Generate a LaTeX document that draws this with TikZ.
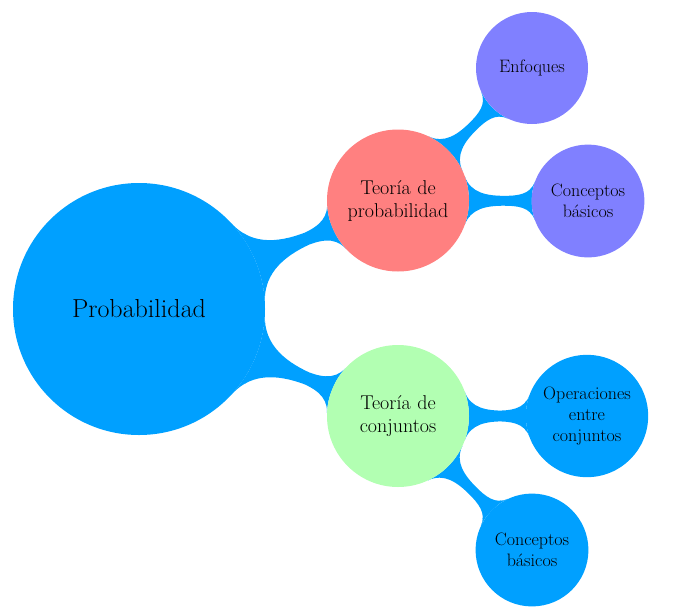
\documentclass[tikz,border=0pt]{standalone}
\usetikzlibrary{mindmap,backgrounds}
\definecolor{cmain}{RGB}{0,160,255}
\colorlet{cprob}{red!50}
\colorlet{cconj}{green!30}
\colorlet{cenf}{blue!50}
\begin{document}
\begin{tikzpicture}[x=1pt,y=-1pt, mindmap, concept color=cmain,
  every node/.style={concept, draw=none, text=black, inner sep=0pt, align=center},
  rootbox/.style={fill=cmain, minimum size=252pt, text width=220pt, font=\fontsize{26}{30}\selectfont},
  lonebox/.style={minimum size=142pt, text width=135pt, font=\fontsize{20}{23}\selectfont},
  ltwobox/.style={minimum size=112pt, text width=108pt, font=\fontsize{18}{21}\selectfont},
  bar/.style={circle connection bar switch color=from (cmain) to (cmain), line width=12pt}]
\useasboundingbox (0,0) rectangle (682,613);
\node[rootbox] (root) at (139,309) {Probabilidad};
\node[lonebox, fill=cprob] (prob) at (398,200.5) {Teoría de\\probabilidad};
\node[lonebox, fill=cconj] (conj) at (398,416) {Teoría de\\conjuntos};
\node[ltwobox, fill=cenf] (enf) at (532,68) {Enfoques};
\node[ltwobox, fill=cenf, minimum size=110pt] (cbp) at (588,201) {Conceptos\\básicos};
\node[ltwobox, fill=cmain, minimum size=116pt] (ope) at (587,416) {Operaciones\\entre\\conjuntos};
\node[ltwobox, fill=cmain] (cbc) at (532,550) {Conceptos\\básicos};
\begin{scope}[on background layer]
\path (root) to[bar] (prob);
\path (root) to[bar] (conj);
\path (prob) to[bar] (enf);
\path (prob) to[bar] (cbp);
\path (conj) to[bar] (ope);
\path (conj) to[bar] (cbc);
\end{scope}
\end{tikzpicture}
\end{document}
